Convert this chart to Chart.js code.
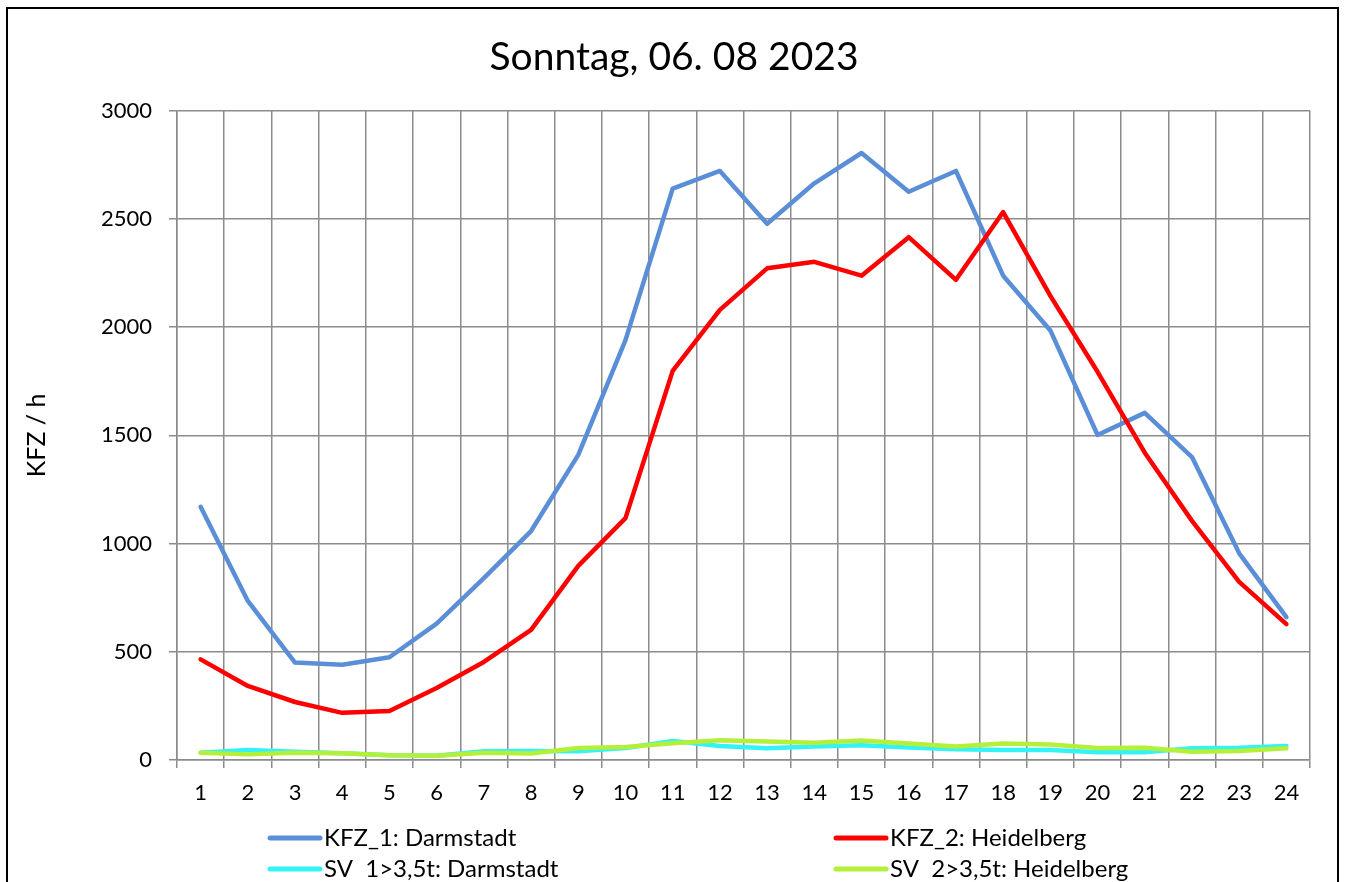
<!DOCTYPE html>
<html>
<head>
<meta charset="utf-8">
<script src="https://cdn.jsdelivr.net/npm/chart.js@4"></script>
<style>
  html, body { margin: 0; padding: 0; background: #fff; }
  #wrap { position: relative; width: 1348px; height: 882px; }
</style>
</head>
<body>
<div id="wrap"><canvas id="trendChart"></canvas></div>
<script>
// hours of the day
const hours = ['1','2','3','4','5','6','7','8','9','10','11','12','13','14','15','16','17','18','19','20','21','22','23','24'];

// vehicles per hour
const kfzDarmstadt = [1170, 735, 450, 440, 475, 630, 840, 1058, 1410, 1940, 2640, 2722, 2478, 2665, 2805, 2626, 2722, 2238, 1985, 1502, 1604, 1400, 955, 660];
const kfzHeidelberg = [465, 342, 268, 218, 226, 333, 453, 601, 897, 1118, 1798, 2080, 2272, 2302, 2238, 2416, 2219, 2532, 2145, 1794, 1420, 1105, 823, 628];
const svDarmstadt = [34, 46, 38, 31, 22, 20, 40, 42, 40, 55, 88, 65, 54, 62, 68, 58, 50, 46, 46, 36, 36, 54, 57, 65];
const svHeidelberg = [34, 26, 34, 31, 22, 20, 34, 30, 55, 60, 77, 91, 85, 80, 90, 76, 62, 76, 72, 56, 57, 38, 42, 54];

const yTicks = [0, 500, 1000, 1500, 2000, 2500, 3000];

const FONT = 'Lato, "Open Sans", sans-serif';
const gridColor = '#8c8c8c';

// white page with the black frame round the chart
const framePlugin = {
    id: 'frame',
    beforeDraw(chart) {
        const ctx = chart.ctx;
        ctx.save();
        ctx.fillStyle = '#fff';
        ctx.fillRect(0, 0, chart.width, chart.height);
        ctx.strokeStyle = '#000';
        ctx.lineWidth = 2;
        ctx.strokeRect(7, 8, 1331, 1000);
        ctx.restore();
    }
};

// legend in two columns like the original (bottom row is cut off by the page)
const legendPlugin = {
    id: 'twoColLegend',
    afterDraw(chart) {
        const ctx = chart.ctx;
        const cols = [268, 834];
        const rows = [838, 869];
        ctx.save();
        ctx.font = '24px ' + FONT;
        ctx.textBaseline = 'middle';
        chart.data.datasets.forEach((ds, i) => {
            const x = cols[i % 2];
            const y = rows[Math.floor(i / 2)];
            ctx.strokeStyle = ds.borderColor;
            ctx.lineWidth = 5;
            ctx.lineCap = 'round';
            ctx.beginPath();
            ctx.moveTo(x + 2, y);
            ctx.lineTo(x + 52, y);
            ctx.stroke();
            ctx.fillStyle = '#000';
            ctx.fillText(ds.label, x + 56, y);
        });
        ctx.restore();
    }
};

const ctx = document.getElementById('trendChart').getContext('2d');

new Chart(ctx, {
    type: 'line',
    data: {
        labels: hours,
        datasets: [
            // lower order is drawn on top, so later series end up above earlier ones
            { label: 'KFZ_1: Darmstadt', data: kfzDarmstadt, borderColor: '#5a8fd8', order: 4 },
            { label: 'KFZ_2: Heidelberg', data: kfzHeidelberg, borderColor: '#ff0000', order: 3 },
            { label: 'SV  1>3,5t: Darmstadt', data: svDarmstadt, borderColor: '#33f3f6', order: 2 },
            { label: 'SV  2>3,5t: Heidelberg', data: svHeidelberg, borderColor: '#b4f03a', order: 1 }
        ]
    },
    options: {
        responsive: true,
        maintainAspectRatio: false,
        animation: false,
        // equal side padding keeps the title centred on the page
        layout: { padding: { left: 38, right: 38, top: 0, bottom: 0 } },
        elements: {
            point: { radius: 0 },
            line: { borderWidth: 4.5, tension: 0, borderCapStyle: 'round', borderJoinStyle: 'round' }
        },
        plugins: {
            legend: { display: false },
            tooltip: { enabled: false },
            title: {
                display: true,
                text: 'Sonntag, 06. 08 2023',
                color: '#000',
                font: { family: FONT, size: 39, weight: 'normal', lineHeight: 1.2 },
                padding: { top: 34, bottom: 30 }
            }
        },
        scales: {
            x: {
                offset: true,
                grid: { offset: true, color: gridColor, lineWidth: 1.5, tickLength: 8 },
                border: { color: gridColor, width: 1.5 },
                ticks: { color: '#000', font: { family: FONT, size: 22 }, padding: 12, maxRotation: 0, autoSkip: false },
                afterFit(scale) { scale.height = 122; }
            },
            y: {
                min: 0,
                max: 3000,
                afterBuildTicks(scale) { scale.ticks = yTicks.map(v => ({ value: v })); },
                grid: { color: gridColor, lineWidth: 1.5, tickLength: 8 },
                border: { color: gridColor, width: 1.5 },
                ticks: { color: '#000', font: { family: FONT, size: 22 }, padding: 17, callback: v => String(v) },
                title: {
                    display: true,
                    text: 'KFZ / h',
                    color: '#000',
                    font: { family: FONT, size: 25 },
                    padding: { top: -16, bottom: 0 }
                },
                afterFit(scale) { scale.width = 139; }
            }
        }
    },
    plugins: [framePlugin, legendPlugin]
});
</script>
</body>
</html>
